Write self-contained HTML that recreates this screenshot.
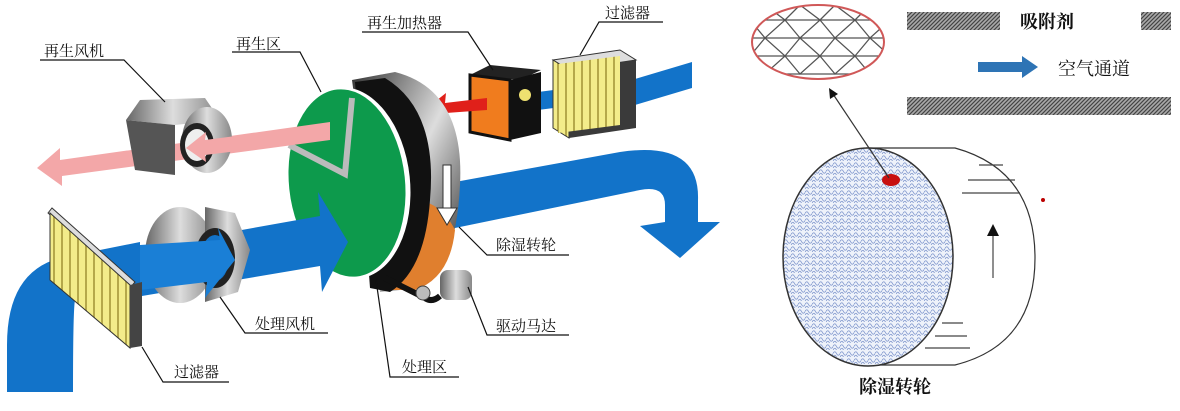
<!DOCTYPE html>
<html><head><meta charset="utf-8"><style>
html,body{margin:0;padding:0;background:#fff;}
svg{display:block}
text{font-family:"Liberation Serif","Noto Serif CJK SC","Noto Sans CJK SC",serif;fill:#111}
</style></head><body>
<svg width="1180" height="411" viewBox="0 0 1180 411" xmlns="http://www.w3.org/2000/svg">
<defs>
<linearGradient id="rim" x1="0" y1="0" x2="1" y2="1">
<stop offset="0" stop-color="#333"/><stop offset="0.5" stop-color="#ddd"/><stop offset="1" stop-color="#222"/></linearGradient>
<linearGradient id="gray" x1="0" y1="0" x2="1" y2="0">
<stop offset="0" stop-color="#666"/><stop offset="0.5" stop-color="#ddd"/><stop offset="1" stop-color="#888"/></linearGradient>
<pattern id="filt" width="8" height="8" patternUnits="userSpaceOnUse">
<rect width="8" height="8" fill="#f3ec8a"/><rect x="5" width="2" height="8" fill="#b5a84a"/></pattern>
<pattern id="hatch" width="4" height="4" patternUnits="userSpaceOnUse">
<rect width="4" height="4" fill="#aaa"/><path d="M0 4L4 0M-1 1L1 -1M3 5L5 3" stroke="#444" stroke-width="1.2"/></pattern>
<pattern id="mesh" width="7" height="7" patternUnits="userSpaceOnUse">
<rect width="7" height="7" fill="#eef2fa"/><path d="M0 3.5Q1.75 0 3.5 3.5T7 3.5M0 7Q1.75 3.5 3.5 7T7 7" stroke="#7d95cc" fill="none" stroke-width="0.8"/></pattern>
<clipPath id="ec"><ellipse cx="818" cy="42" rx="66" ry="37"/></clipPath>
</defs>

<!-- top right blue duct -->
<polygon points="625,82 692,62 692,88 625,108" fill="#1273c9"/>
<polygon points="538,92 585,86 585,104 538,110" fill="#1273c9"/>
<!-- right filter -->
<polygon points="553,60 620,50 636,60 569,70" fill="#ddd" stroke="#333"/>
<polygon points="553,60 569,70 569,138 553,128" fill="url(#filt)" stroke="#333"/>
<polygon points="569,70 636,60 636,128 569,138" fill="#3a3a3a"/>
<polygon points="558,64 620,56 620,125 558,133" fill="url(#filt)"/>
<!-- heater -->
<polygon points="470,75 490,65 541,70 520,80" fill="#222"/>
<polygon points="470,75 510,80 510,140 470,132" fill="#f07c1e" stroke="#111" stroke-width="3"/>
<polygon points="510,80 541,72 541,133 510,140" fill="#111"/>
<circle cx="525" cy="95" r="6" fill="#eee070"/>
<!-- red arrow -->
<polygon points="487,98 445,103 446,93 427,108 447,120 446,113 487,110" fill="#e0201a"/>

<!-- lower blue: after wheel to right & curve down -->
<path d="M455,182 L620,152 Q700,140 698,200 L698,222 L720,222 L680,258 L640,226 L665,222 L665,205 Q665,185 640,190 L455,228 Z" fill="#1273c9"/>

<!-- wheel rim -->
<path d="M352,80 L395,72 Q465,90 460,185 Q456,268 420,288 L380,292 Z" fill="url(#rim)"/>
<path d="M412,200 Q440,200 455,230 Q450,278 415,290 L385,290 Z" fill="#e07f2e"/>
<path d="M355,82 L385,78 Q438,110 430,200 Q425,270 390,292 L370,288 Z" fill="#111"/>
<rect x="443" y="165" width="8" height="45" fill="#fff" stroke="#333"/>
<polygon points="437,208 457,208 447,225" fill="#fff" stroke="#333"/>
<!-- belt -->
<path d="M385,278 L425,298 Q432,303 440,296" stroke="#111" stroke-width="6" fill="none"/>
<!-- motor -->
<rect x="440" y="270" width="32" height="30" rx="8" fill="url(#gray)"/>
<circle cx="423" cy="293" r="7" fill="#bbb" stroke="#444"/>

<!-- green wheel -->
<ellipse cx="349" cy="183" rx="61" ry="96" transform="rotate(-6 349 183)" fill="#fff"/>
<ellipse cx="347" cy="183" rx="58" ry="94" transform="rotate(-6 347 183)" fill="#0d9a4c"/>
<polyline points="289,145 345,174 352,98" fill="none" stroke="#bbb" stroke-width="6"/>

<!-- pink arrow -->
<polygon points="330,122 60,160 60,148 37,168 62,186 62,176 330,140" fill="#f3a7a8"/>
<!-- regen fan -->
<polygon points="126,120 140,100 205,98 220,120 175,125" fill="url(#gray)"/>
<polygon points="126,120 175,125 175,175 135,170" fill="#555"/>
<ellipse cx="207" cy="140" rx="25" ry="33" fill="url(#gray)"/>
<ellipse cx="197" cy="145" rx="17" ry="22" fill="#222"/>
<ellipse cx="197" cy="145" rx="12" ry="16" fill="#eee"/>
<polygon points="328,124 205,140 206,132 186,148 206,162 205,155 328,140" fill="#f3a7a8"/>

<!-- lower blue pipe -->
<path d="M7,392 L7,345 Q7,272 60,258 L140,242 L140,285 L75,300 Q73,310 73,392 Z" fill="#1273c9"/>
<polygon points="130,250 320,216 318,192 348,242 322,292 320,266 130,298" fill="#1273c9"/>
<!-- processing fan -->
<ellipse cx="180" cy="255" rx="35" ry="48" fill="url(#gray)"/>
<polygon points="205,207 235,213 250,250 238,292 205,302" fill="url(#gray)"/>
<ellipse cx="215" cy="258" rx="20" ry="30" fill="#222"/>
<ellipse cx="215" cy="258" rx="14" ry="23" fill="#1273c9"/>
<polygon points="140,245 220,240 218,228 235,260 205,298 207,282 140,290" fill="#1a7fd6"/>
<!-- left filter -->
<polygon points="48,213 52,208 135,282 130,288" fill="#ddd" stroke="#333"/>
<polygon points="50,213 130,285 130,348 50,280" fill="url(#filt)" stroke="#333"/>
<polygon points="130,285 142,282 142,346 130,348" fill="#444"/>

<!-- labels -->
<g stroke="#111" stroke-width="1.2" fill="none">
<polyline points="40,60 124,60 165,102"/>
<polyline points="232,52 300,52 321,92"/>
<polyline points="362,32 468,32 493,70"/>
<polyline points="663,22 599,22 580,55"/>
<polyline points="569,255 487,255 459,227"/>
<polyline points="569,335 487,335 468,287"/>
<polyline points="328,333 245,333 220,297"/>
<polyline points="459,377 390,377 376,280"/>
<polyline points="229,382 163,382 142,347"/>
</g>
<g font-size="15">
<text x="44" y="56">再生风机</text>
<text x="236" y="49">再生区</text>
<text x="367" y="28">再生加热器</text>
<text x="605" y="18">过滤器</text>
<text x="496" y="250">除湿转轮</text>
<text x="496" y="331">驱动马达</text>
<text x="255" y="329">处理风机</text>
<text x="402" y="372">处理区</text>
<text x="174" y="377">过滤器</text>
</g>

<!-- right diagram -->
<ellipse cx="818" cy="42" rx="66" ry="37" fill="#fff"/>
<g clip-path="url(#ec)" stroke="#555" stroke-width="1.3" fill="none">
<path d="M740,20H900M740,38H900M740,56H900M740,74H900"/>
<path d="M750,20L765,38L785,20L800,38L820,20L835,38L855,20L870,38L890,20"/>
<path d="M750,56L765,38L785,56L800,38L820,56L835,38L855,56L870,38L890,56"/>
<path d="M750,56L765,74L785,56L800,74L820,56L835,74L855,56L870,74L890,56"/>
<path d="M750,20L765,5L785,20L800,5L820,20L835,5L855,20L870,5L890,20"/>
</g>
<ellipse cx="818" cy="42" rx="66" ry="37" fill="none" stroke="#d05858" stroke-width="2"/>
<rect x="907" y="12" width="93" height="18" fill="url(#hatch)"/>
<rect x="1141" y="12" width="30" height="18" fill="url(#hatch)"/>
<rect x="907" y="97" width="264" height="18" fill="url(#hatch)"/>
<text x="1020" y="28" font-size="18" font-weight="bold">吸附剂</text>
<polygon points="978,62 1022,62 1022,56 1038,67 1022,78 1022,72 978,72" fill="#2e74b5"/>
<text x="1058" y="75" font-size="18">空气通道</text>
<!-- cylinder -->
<path d="M866,148 L955,148 Q1035,170 1035,258 Q1035,345 955,365 L866,365" fill="#fff" stroke="#333" stroke-width="1.2"/>
<ellipse cx="868" cy="257" rx="85" ry="109" fill="url(#mesh)" stroke="#333" stroke-width="1.5"/>
<g stroke="#444" stroke-width="1.2">
<path d="M979,165H1003M968,180H1015M962,193H1020M942,323H963M935,336H967M925,348H970"/>
<path d="M993,278V230"/>
</g>
<polygon points="987,236 999,236 993,224" fill="#111"/>
<ellipse cx="891" cy="180" rx="9" ry="6" fill="#c81010"/>
<circle cx="1043" cy="200" r="2" fill="#b00"/>
<line x1="889" y1="178" x2="833" y2="94" stroke="#333" stroke-width="1.2"/>
<polygon points="829,88 838,94 830,99" fill="#111"/>
<text x="859" y="393" font-size="18" font-weight="bold" font-family="'Liberation Sans','Noto Sans CJK SC',sans-serif">除湿转轮</text>
</svg>
</body></html>
